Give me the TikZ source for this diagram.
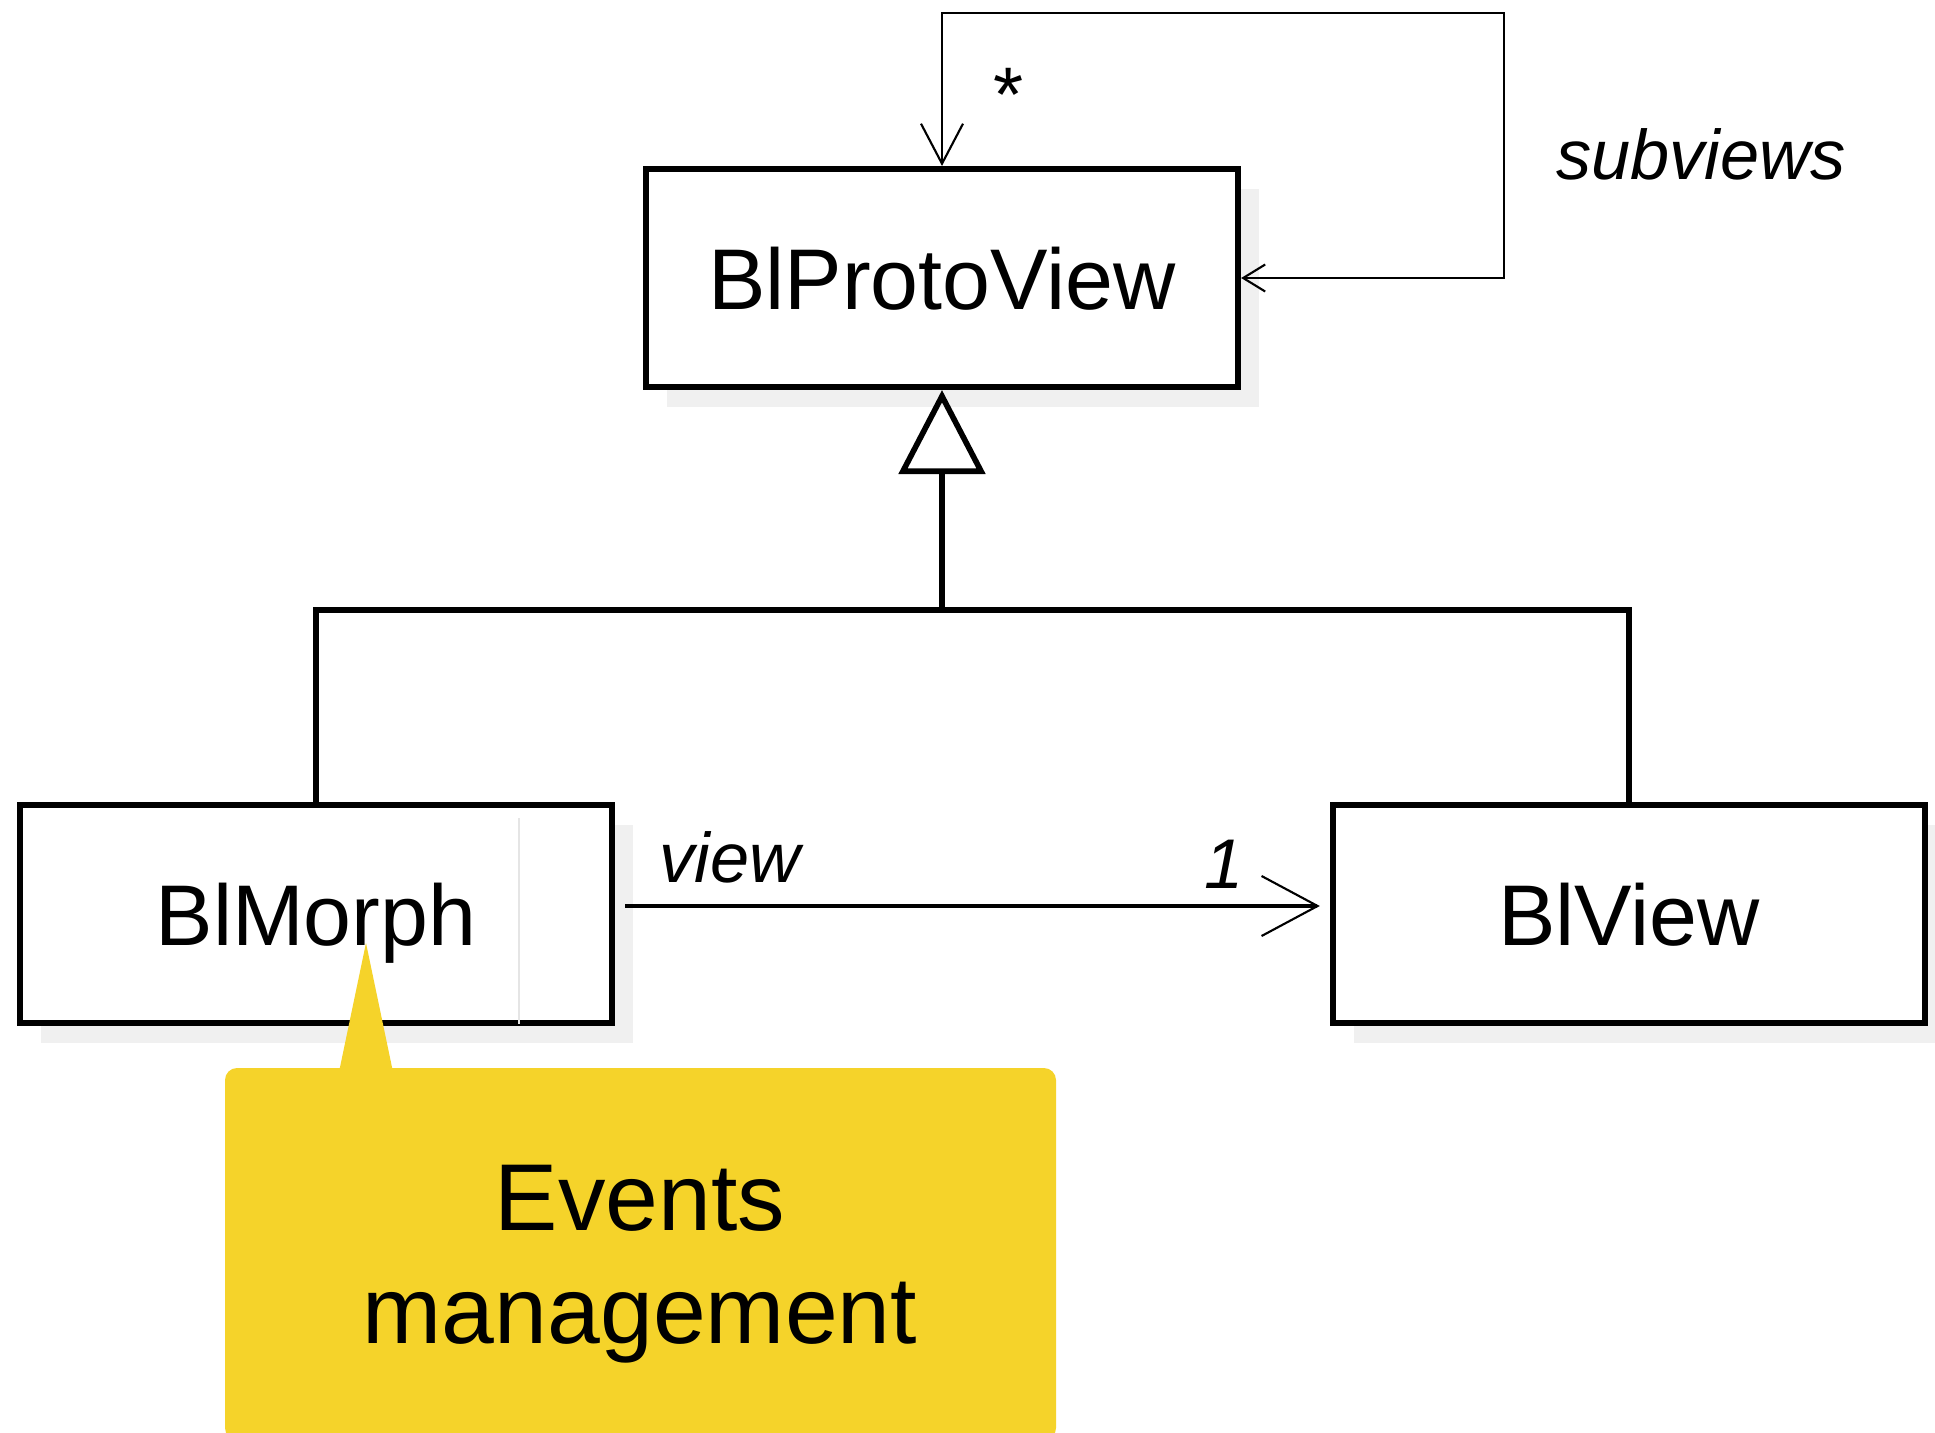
\documentclass[tikz,border=0pt]{standalone}
\usepackage{fontspec}
\setmainfont{Liberation Sans}
\usetikzlibrary{arrows.meta,shadows}
\definecolor{noteyellow}{RGB}{245,211,42}
\tikzset{
  umlclass/.style={draw, line width=1.7pt, fill=white, inner sep=0pt,
    minimum width=5.92cm, minimum height=2.18cm, text depth=0pt,
    font=\fontsize{24.5}{28}\selectfont,
    drop shadow={shadow xshift=0.21cm, shadow yshift=-0.2cm, fill=black!6, opacity=1}},
  rolelabel/.style={anchor=base, inner sep=0pt, font=\fontsize{20}{24}\selectfont\itshape},
  notetext/.style={align=center, inner sep=0pt, font=\fontsize{27}{32}\selectfont},
  assoc/.style={line width=0.6pt}
}
\begin{document}
\begin{tikzpicture}[x=0.01cm, y=-0.01cm]
  \useasboundingbox (0,0) rectangle (1935,1433);
  \draw
    (942,278) node[umlclass] (proto){BlProtoView}
    (316,914) node[umlclass] (morph){BlMorph}
    (1629,914) node[umlclass] (view){BlView};
  \draw[gray!20, line width=0.5pt] (519,818) -- (519,1024);
  \coordinate (loop) at (1504,13);
  \coordinate (join) at (942,610);
  % generalization
  \begin{scope}[line width=1.6pt]
    \draw (morph.north) |- (join);
    \draw (view.north) |- (join);
    \draw[-{Triangle[open,length=0.84cm,width=0.86cm]}] (join) -- (proto.south);
  \end{scope}
  % associations
  \draw[assoc, {Straight Barb[length=0.4cm,width=0.42cm]}-{Straight Barb[length=0.22cm,width=0.27cm]}]
    (proto.north) |- (loop) |- (proto.east);
  \draw[assoc, line width=0.9pt, -{Straight Barb[length=0.56cm,width=0.6cm,line width=0.6pt]},
    shorten <=0.1cm, shorten >=0.1cm] ([yshift=0.08cm]morph.east) -- ([yshift=0.08cm]view.west);
  \node[rolelabel, font=\fontsize{22}{24}\selectfont] (star) at (1009,121) {*};
  \node[rolelabel] (subviews) at (1701,179) {subviews};
  \node[rolelabel] (viewrole) at (730,882) {view};
  \node[rolelabel] (one) at (1224,888) {1};
  % note
  \fill[noteyellow, rounded corners=0.12cm] (225,1068) rectangle (1056,1440);
  \coordinate (tip) at (366,943);
  \fill[noteyellow] (339,1072) -- (tip) -- (393,1072) -- cycle;
  \node[notetext] (note) at (640,1264) {Events\\management};
\end{tikzpicture}
\end{document}
